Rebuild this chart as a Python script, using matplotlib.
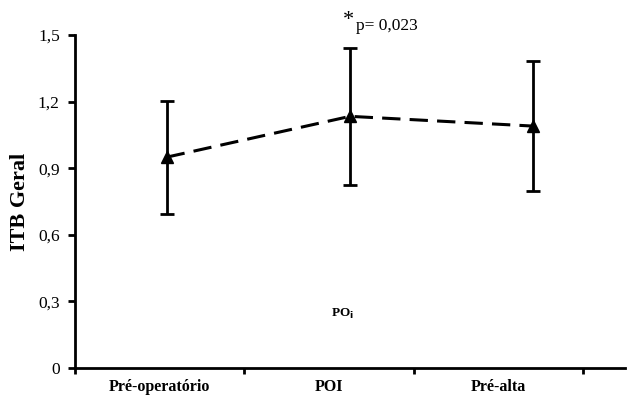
import matplotlib.pyplot as plt

categories = ["Pré-operatório", "POI", "Pré-alta"]
means = [0.95, 1.134, 1.09]
errors = [0.255, 0.31, 0.293]
yticks = [0, 0.3, 0.6, 0.9, 1.2, 1.5]
ytick_labels = ["0", "0,3", "0,6", "0,9", "1,2", "1,5"]

plt.rcParams['font.family'] = ['Liberation Serif', 'DejaVu Serif']

fig = plt.figure(figsize=(6.27, 3.99), dpi=100)
ax = fig.add_axes([0.1196, 0.0777, 0.8774, 0.8343])

# category axis (ticks between categories, like Excel)
ax.set_xlim(-0.5, 2.75)
ax.set_ylim(0, 1.5)
ax.set_xticks([-0.5, 0.5, 1.5, 2.5])
ax.set_xticklabels([])
ax.set_xticks([0, 1, 2], minor=True)
ax.set_xticklabels(categories, minor=True, fontsize=11.5, fontweight='bold')
ax.tick_params(axis='x', which='major', direction='out', length=4, width=2)
ax.tick_params(axis='x', which='minor', length=0, pad=8)
ax.set_yticks(yticks)
ax.set_yticklabels(ytick_labels, fontsize=12.5)
ax.tick_params(axis='y', direction='out', length=5, width=2, pad=6)
for s in ['top', 'right']:
    ax.spines[s].set_visible(False)
for s in ['left', 'bottom']:
    ax.spines[s].set_linewidth(2)
ax.set_ylabel("ITB Geral", fontsize=16, fontweight='bold', labelpad=6)

# data drawn on its own x scale
ax2 = ax.twiny()
ax2.set_xlim(-0.5, 2.5)
ax2.set_ylim(0, 1.5)
ax2.axis('off')
xs = list(range(len(means)))
ax2.errorbar(xs, means, yerr=errors, fmt='none', ecolor='black',
             elinewidth=2, capsize=5, capthick=2)
ax2.plot(xs, means, color='black', linestyle=(0, (6, 3)), linewidth=2.2,
         marker='^', markersize=9)

ax2.text(1.02, 1.525, "*", fontsize=16, ha='right', va='bottom')
ax2.text(1.03, 1.505, "p= 0,023", fontsize=12.5, ha='left', va='bottom')
ax2.text(0.96, 0.245, r"PO$_{\mathbf{i}}$", fontsize=9.5, fontweight='bold',
         ha='center', va='center')

fig.savefig("out.png", dpi=100)
